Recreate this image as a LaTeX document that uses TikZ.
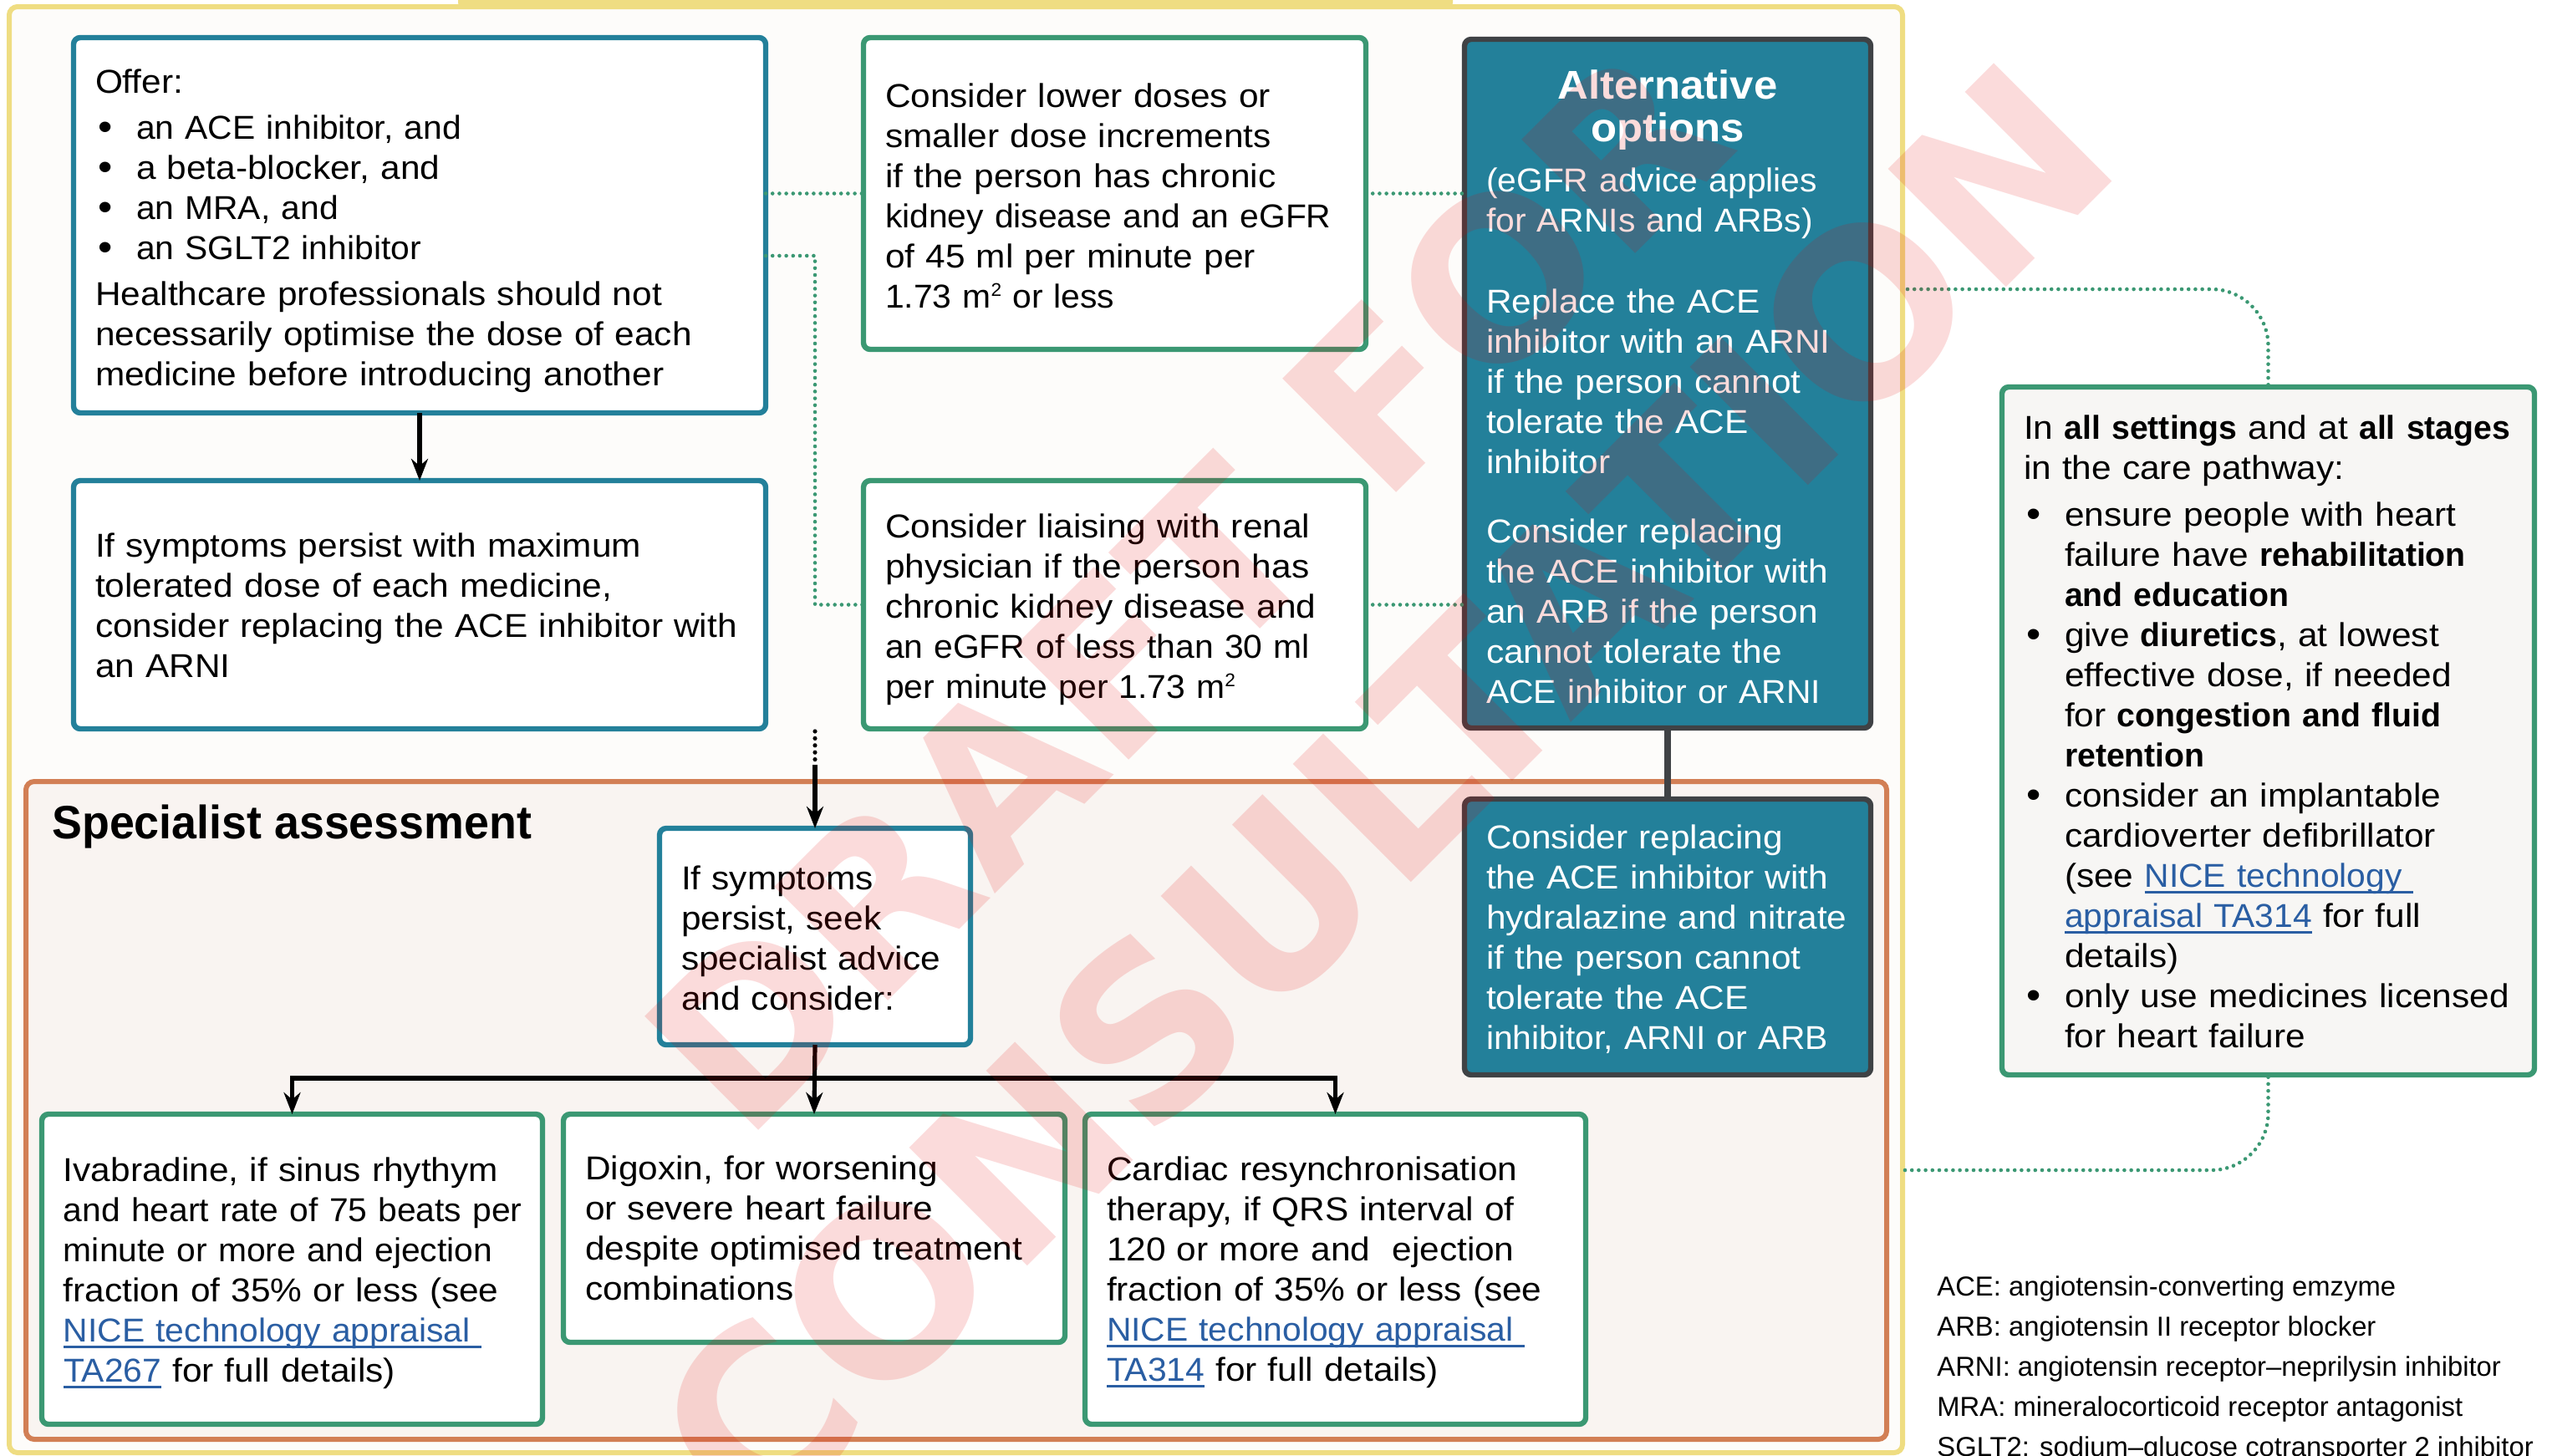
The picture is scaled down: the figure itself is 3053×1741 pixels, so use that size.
\documentclass[tikz,border=0pt]{standalone}
\usepackage{fontspec}
\setmainfont[UprightFeatures={FakeStretch=1.07},BoldFeatures={FakeStretch=0.99}]{Liberation Sans}
\newfontfamily\narrowfont[FakeStretch=1.03]{Liberation Sans}
\newfontfamily\headfont[BoldFeatures={FakeStretch=0.96}]{Liberation Sans}
\newfontfamily\legendfont{Liberation Sans}
\newfontfamily\titlefont[BoldFeatures={FakeStretch=1.06}]{Liberation Sans}
\newfontfamily\wmfont{DejaVu Sans}
\usetikzlibrary{arrows.meta,calc}
\definecolor{teal1}{HTML}{23809A}
\definecolor{green1}{HTML}{3B9873}
\definecolor{orange1}{HTML}{D27F55}
\definecolor{yellow1}{HTML}{EFDD82}
\definecolor{dark1}{HTML}{3F4245}
\definecolor{outerbg}{HTML}{FDFCFA}
\definecolor{orangebg}{HTML}{F9F4F1}
\definecolor{rightbg}{HTML}{F7F6F4}
\definecolor{linkb}{HTML}{2A5EA3}
\definecolor{wm}{HTML}{E60000}
\newcommand\lnk[1]{\leavevmode\setbox0=\hbox{#1}{\color{linkb}\rlap{\rule[-3.6pt]{\wd0}{1.1pt}}\box0}}
\newcommand\nw[1]{{\narrowfont #1}}
\newcommand\bul{\leavevmode\makebox[24.5pt][l]{\hspace{1.9pt}\raisebox{-0.6pt}{\fontsize{23}{24}\selectfont •}}}
\newcommand\ind{\hspace*{24.5pt}}
\newcommand\sq{\raisebox{7pt}{\fontsize{11}{11}\selectfont 2}}
\newcommand\bx[8]{\node[#2, minimum width={(#5-#3)*0.5pt}, minimum height={(#6-#4)*0.5pt}, text width={(#5-#3)*0.5pt-4pt}] (#1) at ({(#3+#5)/2},{(#4+#6)/2}) {\vskip #7pt\relax\leftskip=11pt\relax #8\par};}
\tikzset{
  base/.style={rounded corners=4pt, inner xsep=2pt, inner ysep=0pt, outer sep=0pt, align=left, line width=3.2pt,
    font=\fontsize{19.8}{24}\selectfont, text=black},
  tealbox/.style={base, draw=teal1, fill=white},
  greenbox/.style={base, draw=green1, fill=white},
  altbox/.style={base, draw=dark1, fill=teal1, text=white},
  sidebox/.style={base, draw=green1, fill=rightbg},
  flow/.style={line width=2.6pt, -{Stealth[length=13pt,width=10pt]}},
  gdots/.style={draw=green1, line width=2.3pt, line cap=round, dash pattern=on 0pt off 4.1pt},
  kdots/.style={draw=black, line width=2.6pt, line cap=round, dash pattern=on 0pt off 4.2pt},
  wmark/.style={text=wm, text opacity=0.14, rotate=45},
}
\begin{document}
\begin{tikzpicture}[x=0.5pt,y=-0.5pt]
\useasboundingbox (0,0) rectangle (3053,1741);
\clip (0,0) rectangle (3053,1741);
\fill[white] (0,0) rectangle (3053,1741);
% top banner remnant and outer panel
\fill[yellow1, rounded corners=3pt] (548,-20) rectangle (1738,9);
\draw[yellow1, line width=3pt, fill=outerbg, rounded corners=5pt] (11,8) rectangle (2276,1738);
\draw[orange1, line width=3pt, fill=orangebg, rounded corners=5pt] (31,935) rectangle (2257,1722) ;
% boxes
\bx{offer}{tealbox}{88}{45}{916}{494}{-3}{Offer:\\[3.5pt]
\bul \nw{an ACE inhibitor, and}\\
\bul a beta-blocker, and\\
\bul \nw{an MRA, and}\\
\bul \nw{an SGLT2 inhibitor}\\[3.5pt]
Healthcare professionals should not\\
necessarily optimise the dose of each\\
medicine before introducing another}
\bx{persist}{tealbox}{88}{575}{916}{872}{-9}{If symptoms persist with maximum\\
tolerated dose of each medicine,\\
consider replacing the ACE inhibitor with\\
an ARNI}
\bx{lower}{greenbox}{1033}{45}{1634}{418}{-7}{Consider lower doses or\\
smaller dose increments\\
if the person has chronic\\
\nw{kidney disease and an eGFR}\\
of 45 ml per minute per\\
\nw{1.73 m\sq{} or less}}
\bx{renal}{greenbox}{1033}{575}{1634}{872}{-4}{Consider liaising with renal\\
physician if the person has\\
chronic kidney disease and\\
\nw{an eGFR of less than 30 ml}\\
\nw{per minute per 1.73 m\sq}}
\bx{alt}{altbox}{1752}{47}{2238}{871}{-3}{\makebox[\dimexpr\hsize-22pt\relax][c]{\fontsize{24}{24}\titlefont\bfseries Alternative}\\[1.5pt]
\makebox[\dimexpr\hsize-22pt\relax][c]{\fontsize{24}{24}\titlefont\bfseries options}\\[6pt]
\nw{(eGFR advice applies}\\
\nw{for ARNIs and ARBs)}\\[24.5pt]
Replace the ACE\\
inhibitor with an ARNI\\
if the person cannot\\
tolerate the ACE\\
inhibitor\\[17.5pt]
Consider replacing\\
the ACE inhibitor with\\
an ARB if the person\\
cannot tolerate the\\
\nw{ACE inhibitor or ARNI}}
\bx{hydra}{altbox}{1752}{956}{2238}{1286}{-7}{Consider replacing\\
the ACE inhibitor with\\
hydralazine and nitrate\\
if the person cannot\\
tolerate the ACE\\
\nw{inhibitor, ARNI or ARB}}
\bx{seek}{tealbox}{789}{991}{1161}{1250}{-8}{If symptoms\\
persist, seek\\
specialist advice\\
and consider:}
\bx{iva}{greenbox}{50}{1333}{649}{1704}{-5}{Ivabradine, if sinus rhythym\\
\nw{and heart rate of 75 beats per}\\
\nw{minute or more and ejection}\\
fraction of 35\% or less (see\\
\lnk{\narrowfont NICE technology appraisal\ }\\
\lnk{\narrowfont TA267} for full details)}
\bx{dig}{greenbox}{674}{1333}{1274}{1606}{-10}{Digoxin, for worsening\\
or severe heart failure\\
despite optimised treatment\\
combinations}
\bx{crt}{greenbox}{1298}{1333}{1897}{1704}{-6}{Cardiac resynchronisation\\
therapy, if QRS interval of\\
120 or more and\ \ ejection\\
fraction of 35\% or less (see\\
\lnk{\narrowfont NICE technology appraisal\ }\\
\lnk{\narrowfont TA314} for full details)}
\bx{side}{sidebox}{2395}{463}{3032}{1286}{-9}{In \textbf{all settings} and at \textbf{all stages}\\
in the care pathway:\\[4pt]
\bul ensure people with heart\\
\ind failure have \textbf{rehabilitation}\\
\ind\textbf{and education}\\
\bul give \textbf{diuretics}, at lowest\\
\ind effective dose, if needed\\
\ind for \textbf{congestion and fluid}\\
\ind\textbf{retention}\\
\bul consider an implantable\\
\ind cardioverter defibrillator\\
\ind (see \lnk{\narrowfont NICE technology\ }\\
\ind\lnk{\narrowfont appraisal TA314} for full\\
\ind details)\\
\bul only use medicines licensed\\
\ind for heart failure}
% headings and legend
\node[anchor=base west, inner sep=0pt, font=\fontsize{28}{28}\headfont\bfseries] (spechead) at (62,1003) {Specialist assessment};
\node[anchor=north west, inner sep=0pt, align=left, font=\fontsize{16.4}{24}\legendfont] (legend) at (2317,1526) {ACE: angiotensin-converting emzyme\\
ARB: angiotensin II receptor blocker\\
ARNI: angiotensin receptor–neprilysin inhibitor\\
MRA: mineralocorticoid receptor antagonist\\
SGLT2: sodium–glucose cotransporter 2 inhibitor};
% connectors
\coordinate (dotstart) at (975,875);
\coordinate (dotend) at (975,915);
\coordinate (busmid) at (975,1290);
\coordinate (sideTop) at (2282,346);
\coordinate (sideBot) at (2279,1400);
\draw[flow] (offer.south) -- (persist.north);
\draw[kdots] (dotstart) -- (dotend);
\draw[flow] (dotend) -- (seek.north);
\draw[flow] (seek.south) -- (dig.north);
\draw[flow] (busmid) -| (iva.north);
\draw[flow] (busmid) -| (crt.north);
\draw[line width=4pt, draw=dark1] (alt.south) -- (hydra.north);
\draw[gdots] (offer.east |- lower.west) -- (lower.west);
\draw[gdots] (lower.east) -- (alt.west |- lower.east);
\draw[gdots] (renal.east) -- (alt.west |- renal.east);
\coordinate (elbowa) at (975,306);
\draw[gdots] (offer.east |- elbowa) -- (elbowa) |- (renal.west);
\draw[gdots, rounded corners=34pt] (sideTop) -| (side.north);
\draw[gdots, rounded corners=34pt] (sideBot) -| (side.south);
% watermark
\node[wmark, font=\fontsize{132}{132}\wmfont\bfseries] (wm1) at (1419,705) {DRAFT FOR};
\node[wmark, font=\fontsize{137}{137}\wmfont\bfseries] (wm2) at (1654,949) {CONSULTATION};
\end{tikzpicture}
\end{document}
